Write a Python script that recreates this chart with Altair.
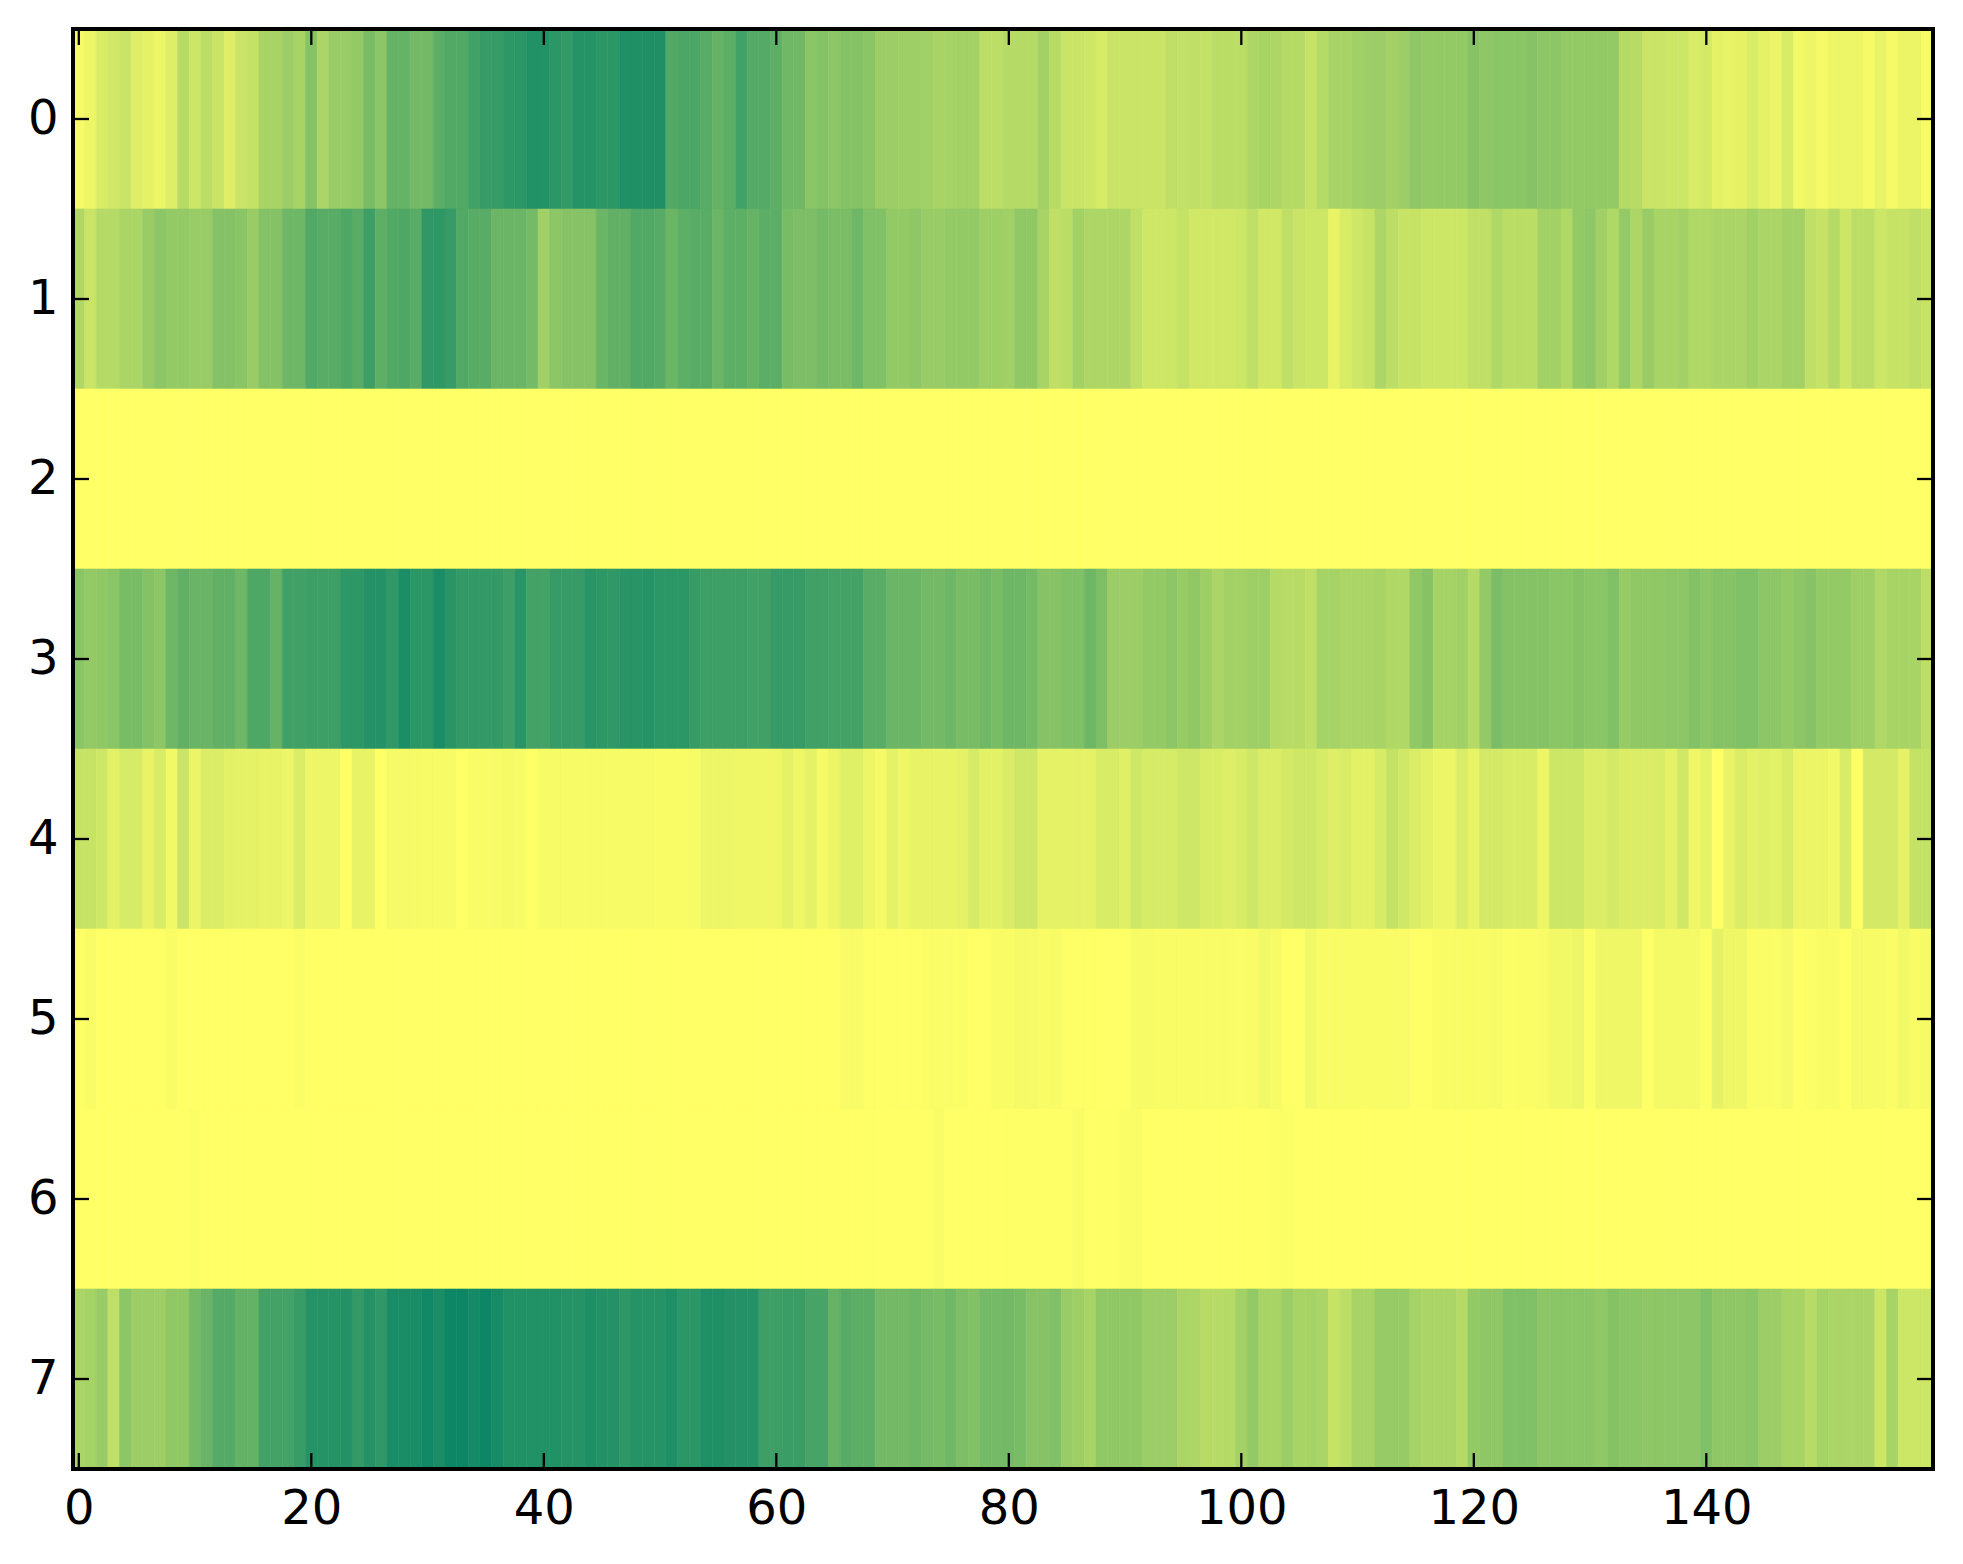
import altair as alt
import pandas as pd

row0 = [4,7,15,18,21,13,10,7,13,28, 20,26,21,13,21,23,34,34,39,34,
        47,33,40,40,42,53,45,60,60,55, 55,64,68,68,74,79,79,82,83,87,
        87,83,80,85,85,83,83,88,88,88, 88,68,70,70,65,60,64,74,67,67,
        63,56,56,46,48,45,48,48,46,39, 39,38,38,37,34,35,36,36,26,26,
        29,29,29,36,28,21,21,19,16,21, 21,21,21,21,25,24,25,24,27,27,
        27,32,34,32,29,29,22,29,34,34, 37,39,39,36,39,44,42,42,42,42,
        47,44,46,46,46,47,45,45,42,42, 42,42,42,29,28,21,21,20,20,15,
        17,10,9,10,15,10,8,15,5,7, 4,7,7,7,4,9,4,8,8,3]
row1 = [31,21,29,29,33,33,40,45,42,42, 40,40,48,48,46,40,48,48,57,57,
        68,65,65,69,65,76,63,68,69,65, 81,82,79,68,65,65,58,58,58,54,
        37,45,47,47,47,58,62,62,68,68, 66,58,63,65,65,58,63,63,60,64,
        64,53,51,51,54,52,52,57,50,50, 42,42,44,40,40,42,42,42,38,38,
        37,43,43,34,25,27,36,32,32,32, 32,25,19,19,20,23,18,18,18,18,
        20,25,18,18,25,21,20,20,9,15, 19,22,32,26,22,22,20,20,20,20,
        25,25,31,27,27,27,36,36,31,42, 44,37,31,42,32,40,34,34,36,31,
        31,33,33,33,37,33,33,36,36,25, 22,29,20,26,26,20,22,22,25,22]
row2 = [0] * 160
row3 = [46,42,43,46,53,53,48,45,57,62, 59,59,62,62,57,69,69,60,75,75,
        76,76,76,82,82,86,86,81,89,83, 83,90,84,80,80,80,80,76,84,73,
        73,79,79,79,84,82,81,84,84,85, 83,83,83,79,76,76,76,76,74,75,
        79,79,79,75,75,73,73,73,65,65, 58,58,58,55,55,57,53,53,56,53,
        57,57,54,47,47,50,50,57,51,39, 39,39,42,42,45,41,43,38,33,36,
        36,38,38,29,28,28,25,35,35,33, 33,33,34,31,31,43,47,35,35,37,
        29,42,52,48,48,48,48,46,46,48, 46,46,50,41,43,43,43,45,45,49,
        45,48,47,50,50,45,45,42,45,47, 42,42,42,38,38,31,34,34,34,26]
row4 = [22,22,19,11,16,16,9,15,5,21, 8,14,14,11,10,10,9,9,7,14,
        7,7,7,0,9,9,0,4,4,4, 3,3,3,0,2,2,3,4,3,0,
        3,3,3,3,3,3,3,3,3,3, 2,2,2,3,7,7,7,6,6,6,
        6,10,6,10,4,8,12,12,7,4, 10,6,9,9,9,9,10,16,11,11,
        14,19,19,10,10,10,10,10,15,15, 12,19,16,16,16,19,19,15,15,13,
        15,19,14,14,17,19,19,16,13,15, 11,11,16,23,18,14,11,7,7,14,
        9,17,17,15,15,15,7,20,20,20, 14,14,17,14,14,14,15,10,18,6,
        10,0,9,14,11,12,11,15,8,8, 8,5,15,0,17,17,17,10,23,23]
row5 = [0,2,0,0,0,0,0,0,2,0, 0,0,0,0,0,0,0,0,0,1.5,
        0,0,0,0,0,0,0,0,0,0, 0,0,0,0,0,0,0,0,0,0,
        0,0,0,0,0,0,0,0,0,0, 0,0,0,0,0,0,0,0,0,0,
        0,0,0,0,0,0,2.5,2.5,0.5,0.5, 0.5,0.5,0.5,1.5,1.5,1.5,1.5,0,0,2,
        2,4,4,2,3,0.5,0.5,0.5,0,0, 0,3,3,2,2,2,2,2.5,2.5,2.5,
        1.5,2.5,5,3.5,0,0,5,2,2,2, 2,2,2,2.5,2.5,0.5,0.5,2,2,2,
        2,2,3,1,1.5,1.5,2.5,5,5,7, 1,6,6,6,6,0,4.5,4.5,4.5,4.5,
        1,10,6,6,1.5,1.5,1.5,4,0,1, 2,2,0,4,3,3,1.5,5,2,4]
row6 = [0,0,0,0,0,0,0,0,0,0, 1,0,0,0,0,0,0,0,0,0,
        0,0,0,0,0,0,0,0,0,0, 0,0,0,0,0,0,0,0,0,0,
        0,0,0,0,0,0,0,0,0,0, 0,0,0,0,0,0,0,0,0,0,
        0,0,0,0,0,0,0,0,0.5,0, 0,0,0,0,2,0,0,0,0,0,
        0.3,0.3,0.3,0.3,0.3,0.3,2,0,0.5,0.5, 1.5,1.5,0,0,0,0,0,0,0,0,
        0,0,0,1,1,0,0,0,0,0, 0,0,0,0,0,0,0,0,0,0,
        0,0,0,0,0,0,0,0,0,0, 0,0,0,0,0,0,0,0,0,0,
        0,0,0,0,0,0,0,0,0,0, 0,0,0,0,0,0,0,0,0,0]
row7 = [33,35,40,25,45,39,39,38,43,43, 54,59,67,67,61,61,73,73,73,78,
        85,85,85,86,80,86,81,90,90,90, 93,90,95,95,92,95,91,87,87,87,
        87,87,85,85,88,86,86,82,85,85, 85,88,83,83,88,88,86,86,86,76,
        76,77,77,72,72,60,66,64,64,55, 55,55,57,54,53,56,51,49,54,54,
        55,53,47,47,50,40,38,34,43,43, 43,43,39,39,39,33,32,28,28,29,
        36,42,34,34,39,34,35,33,22,26, 34,34,41,41,41,35,33,33,33,29,
        42,44,44,50,50,50,45,46,46,46, 46,43,48,46,46,44,45,45,45,45,
        50,44,44,44,46,39,39,34,34,28, 35,33,33,33,33,20,34,20,20,20]

rows = [row0, row1, row2, row3, row4, row5, row6, row7]
x_ticks = [0, 20, 40, 60, 80, 100, 120, 140]
y_ticks = [0, 1, 2, 3, 4, 5, 6, 7]

W, H = 1860, 1440
TICK = 16

records = []
for r, values in enumerate(rows):
    for c, v in enumerate(values):
        records.append({"x0": c - 0.5, "x1": c + 0.5, "y0": r - 0.5, "y1": r + 0.5, "v": v})
cells = pd.DataFrame(records)
xt = pd.DataFrame({"t": x_ticks})
yt = pd.DataFrame({"t": y_ticks})
one = pd.DataFrame({"a": [0]})

xscale = alt.Scale(domain=[-0.5, 159.5], nice=False, zero=False)
yscale = alt.Scale(domain=[7.5, -0.5], nice=False, zero=False)
cscale = alt.Scale(domain=[0, 100], range=["#ffff66", "#008066"], interpolate="rgb")

heat = alt.Chart(cells).mark_rect(strokeWidth=0.6).encode(
    x=alt.X("x0:Q", scale=xscale, title=None,
            axis=alt.Axis(values=x_ticks, format="d", grid=False, domain=False, ticks=False,
                          labelPadding=16, labelFont="DejaVu Sans", labelFontSize=48,
                          labelColor="black", labelOverlap=False, labelFlush=False)),
    x2="x1:Q",
    y=alt.Y("y0:Q", scale=yscale, title=None,
            axis=alt.Axis(values=y_ticks, format="d", grid=False, domain=False, ticks=False,
                          labelPadding=15, labelFont="DejaVu Sans", labelFontSize=48,
                          labelColor="black", labelOverlap=False, labelFlush=False)),
    y2="y1:Q",
    color=alt.Color("v:Q", scale=cscale, legend=None),
    stroke=alt.Stroke("v:Q", scale=cscale, legend=None),
)

tick_style = dict(color="black", strokeWidth=2.3)
bottom_ticks = alt.Chart(xt).mark_rule(**tick_style).encode(
    x=alt.X("t:Q", scale=xscale), y=alt.value(H - TICK), y2=alt.value(H))
top_ticks = alt.Chart(xt).mark_rule(**tick_style).encode(
    x=alt.X("t:Q", scale=xscale), y=alt.value(0), y2=alt.value(TICK))
left_ticks = alt.Chart(yt).mark_rule(**tick_style).encode(
    y=alt.Y("t:Q", scale=yscale), x=alt.value(0), x2=alt.value(TICK))
right_ticks = alt.Chart(yt).mark_rule(**tick_style).encode(
    y=alt.Y("t:Q", scale=yscale), x=alt.value(W - TICK), x2=alt.value(W))
frame = alt.Chart(one).mark_rect(filled=False, stroke="black", strokeWidth=4).encode(
    x=alt.value(0), x2=alt.value(W), y=alt.value(0), y2=alt.value(H))

chart = alt.layer(heat, bottom_ticks, top_ticks, left_ticks, right_ticks, frame).properties(
    width=W, height=H,
    autosize=alt.AutoSizeParams(type="none"),
    padding={"left": 65, "top": 21, "right": 22, "bottom": 70},
    background="white",
).configure_view(stroke=None)

chart.save("out.html", embed_options={"renderer": "svg", "actions": False})
